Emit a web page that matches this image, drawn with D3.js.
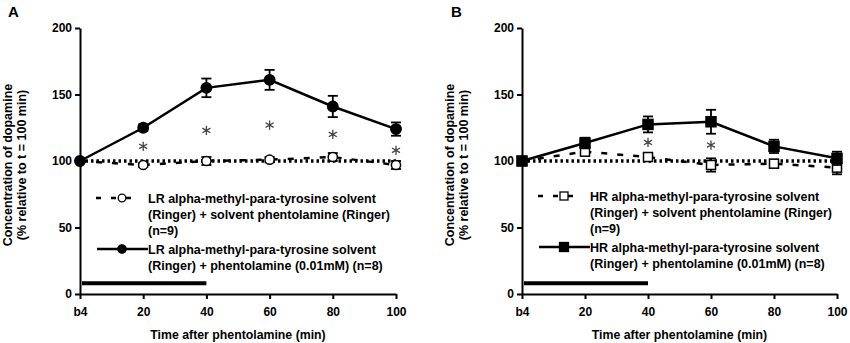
<!DOCTYPE html>
<html>
<head>
<meta charset="utf-8">
<script src="https://cdn.jsdelivr.net/npm/d3@7"></script>
<style>
  body { margin: 0; background: #fff; }
  svg text { font-family: "Liberation Sans", Arial, sans-serif; }
</style>
</head>
<body>
<div id="chart"></div>
<script>
// time points (b4 = baseline, plotted at 0)
var timePoints = [0, 20, 40, 60, 80, 100];
var timeLabels = ["b4", "20", "40", "60", "80", "100"];
var yTicks = [0, 50, 100, 150, 200];

// panel A : LR rats
var lrDrug = [100, 125, 155, 161, 141, 124];
var lrDrugErr = [0, 2.5, 7, 7.5, 8, 5];
var lrSolvent = [100, 97, 100, 101, 103, 97];
var lrSolventErr = [0, 1.5, 3, 2, 3, 3];
var lrStars = [null, 111, 123, 127, 120, 108];

// panel B : HR rats
var hrDrug = [100, 113.5, 127.5, 129.5, 111, 102];
var hrDrugErr = [0, 4, 6, 9, 5, 5];
var hrSolvent = [100, 107, 103, 97, 98, 95];
var hrSolventErr = [0, 2, 3, 5, 3, 5];
var hrStars = [null, null, 114, 112, null, null];

// phentolamine application period
var drugPeriod = [0, 40];
var drugPeriodLevel = 8;

var W = 850, H = 343;
var svg = d3.select("#chart").append("svg")
    .attr("width", W)
    .attr("height", H);

var panels = [
    {
        letter: "A", left: 80, right: 396, letterX: 8, marker: "circle",
        drug: lrDrug, drugErr: lrDrugErr, solvent: lrSolvent, solventErr: lrSolventErr, stars: lrStars,
        legendY: 198,
        legend1: ["LR alpha-methyl-para-tyrosine solvent", "(Ringer) + solvent phentolamine (Ringer)", "(n=9)"],
        legend2: ["LR alpha-methyl-para-tyrosine solvent", "(Ringer) + phentolamine (0.01mM) (n=8)"]
    },
    {
        letter: "B", left: 522, right: 837, letterX: 451, marker: "square",
        drug: hrDrug, drugErr: hrDrugErr, solvent: hrSolvent, solventErr: hrSolventErr, stars: hrStars,
        legendY: 196,
        legend1: ["HR alpha-methyl-para-tyrosine solvent", "(Ringer) + solvent phentolamine (Ringer)", "(n=9)"],
        legend2: ["HR alpha-methyl-para-tyrosine solvent", "(Ringer) + phentolamine (0.01mM) (n=8)"]
    }
];

panels.forEach(function (p) {
    var x = d3.scaleLinear().domain([0, 100]).range([p.left, p.right]);
    var y = d3.scaleLinear().domain([0, 200]).range([294, 28]);
    var g = svg.append("g");

    function marker(sel, cx, cy, filled, small) {
        if (p.marker == "circle") {
            var r = filled ? 5.2 : 4.6;
            if (small) r = filled ? 4.2 : 3.8;
            sel.append("circle")
                .attr("cx", cx).attr("cy", cy)
                .attr("r", r)
                .attr("fill", filled ? "#000" : "#fff")
                .attr("stroke", "#000")
                .attr("stroke-width", small ? 1.3 : 1.5);
        } else {
            var s = filled ? 10 : 9;
            if (small) s = filled ? 9 : 8;
            sel.append("rect")
                .attr("x", cx - s / 2).attr("y", cy - s / 2)
                .attr("width", s).attr("height", s)
                .attr("fill", filled ? "#000" : "#fff")
                .attr("stroke", "#000")
                .attr("stroke-width", small ? 1.3 : 1.5);
        }
    }

    // panel letter
    g.append("text")
        .attr("x", p.letterX).attr("y", 17)
        .style("font-size", "15px").style("font-weight", "bold")
        .text(p.letter);

    // drug application bar
    g.append("line")
        .attr("x1", x(drugPeriod[0]) + 2).attr("x2", x(drugPeriod[1]))
        .attr("y1", y(drugPeriodLevel)).attr("y2", y(drugPeriodLevel))
        .attr("stroke", "#000").attr("stroke-width", 4);

    // axes
    var yAxis = g.append("g")
        .attr("transform", "translate(" + p.left + ",0)")
        .call(d3.axisLeft(y).tickValues(yTicks).tickSize(5).tickSizeOuter(0).tickPadding(3));
    var xAxis = g.append("g")
        .attr("transform", "translate(0," + y(0) + ")")
        .call(d3.axisBottom(x).tickValues(timePoints).tickSize(5).tickSizeOuter(0).tickPadding(8)
            .tickFormat(function (d, i) { return timeLabels[i]; }));
    [yAxis, xAxis].forEach(function (a) {
        a.select(".domain").attr("stroke-width", 2);
        a.selectAll("line").attr("stroke-width", 2);
        a.selectAll("text")
            .style("font-family", "Liberation Sans, Arial, sans-serif")
            .style("font-size", "12px").style("font-weight", "bold").attr("fill", "#000");
    });

    // axis titles
    g.append("text")
        .attr("transform", "translate(" + (p.left - 68) + "," + 165 + ") rotate(-90)")
        .style("text-anchor", "middle").style("font-size", "12.5px").style("font-weight", "bold")
        .text("Concentration of dopamine");
    g.append("text")
        .attr("transform", "translate(" + (p.left - 54) + "," + 165 + ") rotate(-90)")
        .style("text-anchor", "middle").style("font-size", "12.5px").style("font-weight", "bold")
        .text("(% relative to t = 100 min)");
    g.append("text")
        .attr("x", (p.left + p.right) / 2).attr("y", 339)
        .style("text-anchor", "middle").style("font-size", "12.3px").style("font-weight", "bold")
        .text("Time after phentolamine (min)");

    // dotted reference at 100 %
    g.append("line")
        .attr("x1", x(0)).attr("x2", x(100))
        .attr("y1", y(100)).attr("y2", y(100))
        .attr("stroke", "#000").attr("stroke-width", 3.5)
        .attr("stroke-dasharray", "2.5,3");

    var line = d3.line()
        .x(function (d, i) { return x(timePoints[i]); })
        .y(function (d) { return y(d); });

    // solvent series (dashed, open markers)
    g.append("path")
        .datum(p.solvent)
        .attr("d", line)
        .attr("fill", "none").attr("stroke", "#000")
        .attr("stroke-width", 2.5).attr("stroke-dasharray", "6,10");

    // drug series (solid, filled markers)
    g.append("path")
        .datum(p.drug)
        .attr("d", line)
        .attr("fill", "none").attr("stroke", "#000")
        .attr("stroke-width", 2.5);

    function errorBars(values, errs) {
        values.forEach(function (v, i) {
            if (!errs[i]) return;
            var cx = x(timePoints[i]);
            var eg = g.append("g").attr("stroke", "#000").attr("stroke-width", 1.8);
            eg.append("line").attr("x1", cx).attr("x2", cx)
                .attr("y1", y(v - errs[i])).attr("y2", y(v + errs[i]));
            [v - errs[i], v + errs[i]].forEach(function (e) {
                eg.append("line").attr("x1", cx - 5).attr("x2", cx + 5)
                    .attr("y1", y(e)).attr("y2", y(e));
            });
        });
    }

    errorBars(p.solvent, p.solventErr);
    p.solvent.forEach(function (v, i) { marker(g, x(timePoints[i]), y(v), false); });
    errorBars(p.drug, p.drugErr);
    p.drug.forEach(function (v, i) { marker(g, x(timePoints[i]), y(v), true); });

    // significance stars
    var star = d3.symbol(d3.symbolAsterisk, 60);
    p.stars.forEach(function (s, i) {
        if (s == null) return;
        g.append("path")
            .attr("d", star)
            .attr("transform", "translate(" + x(timePoints[i]) + "," + y(s) + ")")
            .attr("fill", "none").attr("stroke", "#444").attr("stroke-width", 1.3);
    });

    // legend
    var lx = p.left + 42, ly = p.legendY, tx = p.left + 68;
    var lg = g.append("g");
    lg.append("line")
        .attr("x1", lx - 26).attr("x2", lx + 13)
        .attr("y1", ly).attr("y2", ly)
        .attr("stroke", "#000").attr("stroke-width", 2.5)
        .attr("stroke-dasharray", "5,10");
    marker(lg, lx, ly, false, true);
    p.legend1.forEach(function (t, i) {
        lg.append("text")
            .attr("x", tx).attr("y", ly + 4.5 + i * 16)
            .style("font-size", "12.5px").style("font-weight", "bold")
            .text(t);
    });
    var ly2 = ly + 51;
    lg.append("line")
        .attr("x1", lx - 25).attr("x2", tx)
        .attr("y1", ly2).attr("y2", ly2)
        .attr("stroke", "#000").attr("stroke-width", 2.5);
    marker(lg, lx, ly2, true, true);
    p.legend2.forEach(function (t, i) {
        lg.append("text")
            .attr("x", tx).attr("y", ly2 + 4.5 + i * 16)
            .style("font-size", "12.5px").style("font-weight", "bold")
            .text(t);
    });
});
</script>
</body>
</html>
